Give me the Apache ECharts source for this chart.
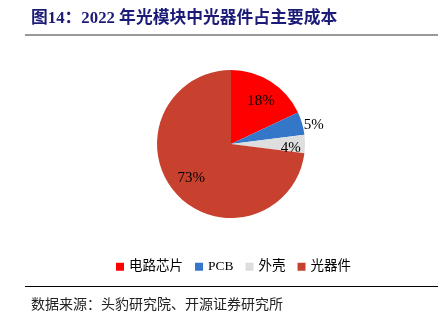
<!DOCTYPE html>
<html><head><meta charset="utf-8">
<script src="https://cdn.jsdelivr.net/npm/echarts@6/dist/echarts.min.js"></script>
<style>html,body{margin:0;padding:0;background:#fff}#c{width:438px;height:322px}</style>
</head><body><div id="c"></div>
<script>
const categories = ['电路芯片', 'PCB', '外壳', '光器件'];
const values = [18, 5, 4, 73];
const colors = ['#FF0000', '#3477C9', '#DEDEDE', '#C8412F'];
const labelRadiusFactor = [0.71, 1.15, 0.81, 0.71];
const labelAngleShiftDeg = [2.5, 3, 3.8, 0.6];
const CX = 231, CY = 144, R = 74;

const total = values.reduce((a, b) => a + b, 0);
const midAngles = [];
let acc = 0;
values.forEach(v => { midAngles.push((acc + v / 2) / total * 2 * Math.PI); acc += v; });

const chart = echarts.init(document.getElementById('c'));
chart.setOption({
  backgroundColor: '#fff',
  animation: false,
  title: [{
    text: '图14：2022 年光模块中光器件占主要成本',
    left: 26, top: 5,
    textStyle: {fontFamily: '"Liberation Serif","Noto Sans CJK SC",serif', fontWeight: 'bold', fontSize: 16.8, color: '#1C1C78'}
  }, {
    text: '数据来源：头豹研究院、开源证券研究所',
    left: 26, top: 292,
    textStyle: {fontFamily: '"Noto Sans CJK SC",serif', fontWeight: 'normal', fontSize: 14, color: '#222'}
  }],
  graphic: [
    {type: 'rect', shape: {x: 25, y: 34, width: 413, height: 2}, style: {fill: '#999'}},
    {type: 'rect', shape: {x: 25, y: 286, width: 413, height: 1}, style: {fill: '#000'}}
  ],
  legend: {
    data: categories,
    top: 255, left: 111,
    icon: 'rect', itemWidth: 8, itemHeight: 8, itemGap: 12,
    textStyle: {fontFamily: '"Liberation Serif","Noto Sans CJK SC",serif', fontSize: 13.5, color: '#000'}
  },
  series: [{
    type: 'pie',
    center: [CX, CY],
    radius: [0, R],
    startAngle: 90,
    clockwise: true,
    color: colors,
    data: categories.map((n, i) => ({name: n, value: values[i]})),
    label: {
      show: true, position: 'inside',
      formatter: '{c}%',
      fontFamily: '"Liberation Serif",serif', fontSize: 15, color: '#000'
    },
    labelLine: {show: false},
    labelLayout: function (p) {
      const a = midAngles[p.dataIndex] + labelAngleShiftDeg[p.dataIndex] * Math.PI / 180;
      const d = labelRadiusFactor[p.dataIndex] * R;
      return {x: CX + d * Math.sin(a), y: CY - d * Math.cos(a), align: 'center', verticalAlign: 'middle'};
    },
    emphasis: {disabled: true}
  }]
});
</script></body></html>
